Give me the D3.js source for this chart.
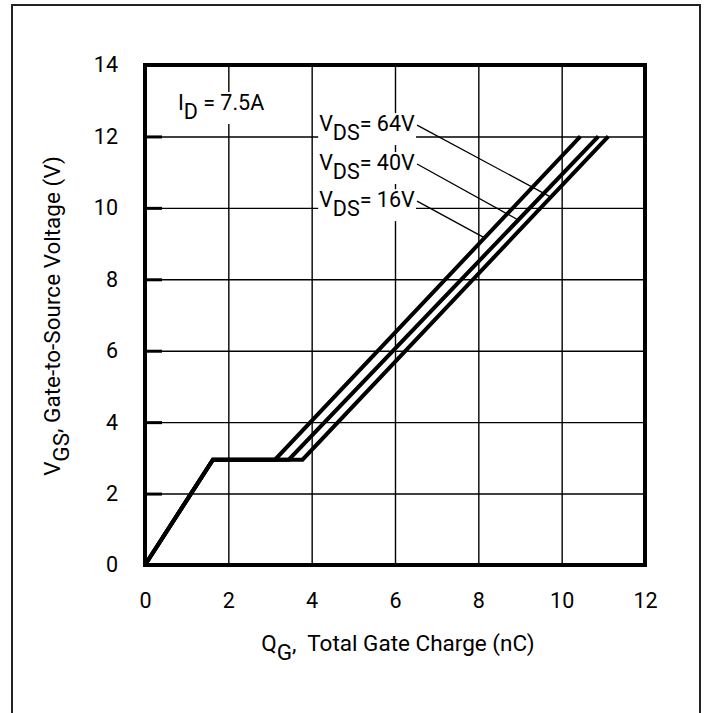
<!DOCTYPE html>
<html>
<head>
<meta charset="utf-8">
<script src="https://cdn.jsdelivr.net/npm/d3@7/dist/d3.min.js"></script>
<style>
body { margin: 0; background: #fff; }
svg text { font-family: Roboto, "Noto Sans", sans-serif; fill: #000; }
</style>
</head>
<body>
<div id="chart"></div>
<script>
// gate charge curves: Qg (nC) against Vgs (V), one per Vds
var vgsPts = [0, 2.95, 2.95, 12];
var qg64 = [0, 1.63, 3.78, 11.12];
var qg40 = [0, 1.63, 3.45, 10.88];
var qg16 = [0, 1.63, 3.12, 10.45];
var xTicks = [0, 2, 4, 6, 8, 10, 12];
var yTicks = [0, 2, 4, 6, 8, 10, 12, 14];
// annotations (label spot and where the leader meets the curve)
var vdsNames = ['64V', '40V', '16V'];
var labelQg = [4.18, 4.18, 4.18];
var labelVgs = [12.15, 11.06, 10.02];
var leaderVgs = [10.3, 9.66, 9.16];
var idText = '7.5A';
var idQg = 0.79, idVgs = 12.74;

var width = 707, height = 713;
var fs = 21.5;     // ticks and notes
var fsTitle = 22.5; // axis titles

var svg = d3.select('#chart').append('svg')
	.attr('width', width)
	.attr('height', height);

var x = d3.scaleLinear().domain([0, 12]).range([145, 645]);
var y = d3.scaleLinear().domain([0, 14]).range([565, 65]);

// outer frame
svg.append('path')
	.attr('d', 'M12,' + height + 'V5H700V' + height)
	.attr('fill', 'none')
	.attr('stroke', '#222')
	.attr('stroke-width', 2);

// grid + tick labels
var gx = svg.append('g')
	.attr('transform', 'translate(0,' + y(0) + ')')
	.call(d3.axisBottom(x).tickValues(xTicks).tickSize(-(y(0) - y(14))).tickPadding(28));
var gy = svg.append('g')
	.attr('transform', 'translate(' + x(0) + ',0)')
	.call(d3.axisLeft(y).tickValues(yTicks).tickSize(-(x(12) - x(0))).tickPadding(27));
[gx, gy].forEach(function (g) {
	g.select('.domain').remove();
	g.selectAll('line').attr('stroke', '#000').attr('stroke-width', 1.4);
	g.selectAll('text').attr('font-size', fs).attr('font-family', null);
});

// short inner ticks on the left edge
var gt = svg.append('g')
	.attr('transform', 'translate(' + x(0) + ',0)')
	.call(d3.axisLeft(y).tickValues(yTicks).tickSize(-17).tickFormat(''));
gt.select('.domain').remove();
gt.selectAll('line').attr('stroke', '#000').attr('stroke-width', 3);

// label helper: text with a lowered subscript
function subLabel(g, px, py, main, sub, rest, anchor, size) {
	var t = g.append('text')
		.attr('x', px)
		.attr('y', py)
		.attr('font-size', size || fs)
		.attr('text-anchor', anchor || 'start')
		.attr('xml:space', 'preserve');
	t.append('tspan').text(main);
	t.append('tspan').attr('dy', 9).text(sub);
	t.append('tspan').attr('dy', -9).text(rest);
	return t;
}
// white box behind a label so the grid breaks around it
function knockout(t) {
	var b = t.node().getBBox();
	d3.select(t.node().parentNode).insert('rect', function () { return t.node(); })
		.attr('x', b.x - 1)
		.attr('y', b.y + 2)
		.attr('width', b.width + 2)
		.attr('height', b.height - 2)
		.attr('fill', '#fff');
}

var ann = svg.append('g');
var idLabel = subLabel(ann, x(idQg), y(idVgs), 'I', 'D', ' = ' + idText);
knockout(idLabel);

var curves = [qg64, qg40, qg16];
vdsNames.forEach(function (name, i) {
	var t = subLabel(ann, x(labelQg[i]), y(labelVgs[i]), 'V', 'DS', '= ' + name);
	knockout(t);
	var b = t.node().getBBox();
	var qg = curves[i];
	var along = d3.scaleLinear().domain([vgsPts[2], vgsPts[3]]).range([qg[2], qg[3]]);
	ann.append('line')
		.attr('x1', b.x + b.width + 2)
		.attr('y1', y(labelVgs[i]) - 6)
		.attr('x2', x(along(leaderVgs[i])))
		.attr('y2', y(leaderVgs[i]))
		.attr('stroke', '#000')
		.attr('stroke-width', 1.3);
});

// curves
var line = d3.line()
	.x(function (d) { return x(d[0]); })
	.y(function (d) { return y(d[1]); });
svg.selectAll('.curve')
	.data(curves)
	.enter()
	.append('path')
	.attr('class', 'curve')
	.attr('d', function (qg) {
		return line(qg.map(function (q, i) { return [q, vgsPts[i]]; }));
	})
	.attr('fill', 'none')
	.attr('stroke', '#000')
	.attr('stroke-width', 4)
	.attr('stroke-linejoin', 'miter');

// plot border
svg.append('rect')
	.attr('x', x(0))
	.attr('y', y(14))
	.attr('width', x(12) - x(0))
	.attr('height', y(0) - y(14))
	.attr('fill', 'none')
	.attr('stroke', '#000')
	.attr('stroke-width', 4);

// axis titles
subLabel(svg, (x(0) + x(12)) / 2 + 3, 651, 'Q', 'G', ',  Total Gate Charge (nC)', 'middle', fsTitle);
var yt = svg.append('g').attr('transform', 'translate(60,' + ((y(0) + y(14)) / 2 + 1) + ') rotate(-90)');
subLabel(yt, 0, 0, 'V', 'GS', ', Gate-to-Source Voltage (V)', 'middle', fsTitle);
</script>
</body>
</html>
